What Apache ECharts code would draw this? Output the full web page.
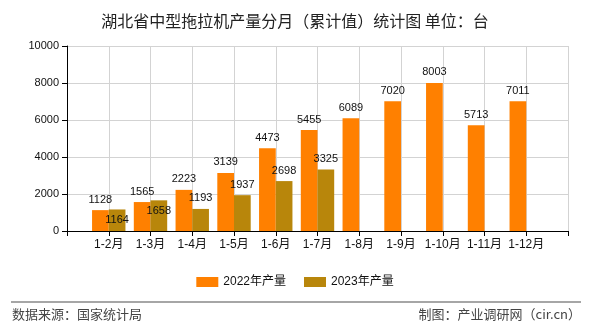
<!DOCTYPE html>
<html><head><meta charset="utf-8">
<script src="https://cdn.jsdelivr.net/npm/echarts@6/dist/echarts.min.js"></script>
<style>html,body{margin:0;padding:0;background:#fff}#c{width:590px;height:330px}</style>
</head><body><div id="c"></div>
<script>
const categories = ['1-2月','1-3月','1-4月','1-5月','1-6月','1-7月','1-8月','1-9月','1-10月','1-11月','1-12月'];
const values2022 = [1128,1565,2223,3139,4473,5455,6089,7020,8003,5713,7011];
const values2023 = [1164,1658,1193,1937,2698,3325];
const yTicks = [0,2000,4000,6000,8000,10000];
const seriesNames = ['2022年产量','2023年产量'];

const FONT = "'Liberation Sans','Noto Sans CJK SC',sans-serif";
const CJK = "'Noto Sans CJK SC',sans-serif";
const shiftedLabels2023 = [0,1];

const xData = [''].concat(categories, ['']);
function pad(arr){
  const out = [null];
  for (let i=0;i<categories.length;i++) out.push(i<arr.length?arr[i]:null);
  out.push(null);
  return out;
}
const d2022 = pad(values2022);
const d2023 = pad(values2023).map((v,i)=>{
  if (v!=null && shiftedLabels2023.indexOf(i-1)>=0) return {value:v,label:{offset:[0,21]}};
  return v;
});

const chart = echarts.init(document.getElementById('c'), null, {renderer:'canvas'});
chart.setOption({
  animation:false,
  backgroundColor:'#fff',
  title:{text:'湖北省中型拖拉机产量分月（累计值）统计图 单位：台',left:'center',top:8,
    textStyle:{fontFamily:CJK,fontSize:16,fontWeight:'normal',color:'#222'}},
  grid:{left:67,right:22,top:46,bottom:99},
  legend:{top:271,left:'center',itemWidth:22,itemHeight:10,itemGap:18,icon:'rect',
    textStyle:{fontFamily:FONT,fontSize:12,color:'#111'},
    data:seriesNames},
  xAxis:{type:'category',data:xData,boundaryGap:false,
    axisLine:{show:true,lineStyle:{color:'#000',width:1}},
    axisTick:{show:true,length:5,interval:0,lineStyle:{color:'#000'}},
    axisLabel:{interval:0,margin:8,fontFamily:FONT,fontSize:12,color:'#111'},
    splitLine:{show:true,interval:0,lineStyle:{color:'#d3d3d3',width:1}}},
  yAxis:{type:'value',min:yTicks[0],max:yTicks[yTicks.length-1],interval:2000,
    axisLine:{show:true,lineStyle:{color:'#000',width:1}},
    axisTick:{show:true,length:5,lineStyle:{color:'#000'}},
    axisLabel:{margin:8,fontFamily:FONT,fontSize:11,color:'#111',formatter:v=>String(v)},
    splitLine:{show:true,lineStyle:{color:'#d3d3d3',width:1}}},
  series:[
    {name:seriesNames[0],type:'bar',data:d2022,barWidth:'40%',barGap:'0%',
      itemStyle:{color:'#FF8000'},
      label:{show:true,position:'top',distance:5,fontFamily:FONT,fontSize:11,color:'#111'}},
    {name:seriesNames[1],type:'bar',data:d2023,barWidth:'40%',barGap:'0%',
      itemStyle:{color:'#B8860B'},
      label:{show:true,position:'top',distance:5,fontFamily:FONT,fontSize:11,color:'#111'}}
  ],
  graphic:[
    {type:'line',shape:{x1:11,y1:302,x2:581,y2:302},style:{stroke:'#888',lineWidth:1.5},silent:true},
    {type:'text',left:12,top:308,style:{text:'数据来源：国家统计局',fontFamily:CJK,fontSize:13,fill:'#444'}},
    {type:'text',right:9,top:308,style:{text:'制图：产业调研网（cir.cn）',fontFamily:CJK,fontSize:13,fill:'#444'}}
  ]
});
</script></body></html>
